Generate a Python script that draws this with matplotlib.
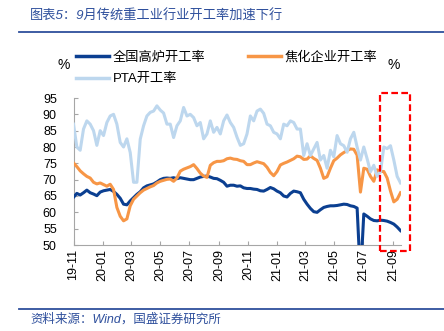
import numpy as np
import pandas as pd
import matplotlib
matplotlib.use('Agg')
import matplotlib.pyplot as plt
import matplotlib.dates as mdates
from matplotlib.patches import Rectangle
from matplotlib.lines import Line2D

plt.rcParams['font.family'] = ['Liberation Sans', 'Noto Sans CJK SC']

# weekly data, 2019-11 to 2021-09
fechas = pd.date_range('2019-11-01', periods=99, freq='7D')

gaolu = [64.6, 65.8, 65.3, 66.0, 66.8, 66.0, 65.6, 65.1, 66.2, 66.6,
         66.8, 67.0, 66.4, 65.5, 64.3, 62.5, 62.3, 63.5, 64.5, 65.5,
         66.3, 67.5, 68.1, 68.4, 68.7, 69.3, 70.0, 70.4, 70.5, 70.4,
         70.6, 70.3, 70.6, 70.4, 70.2, 70.0, 70.0, 70.4, 70.8, 71.0,
         71.1, 70.8, 70.4, 70.3, 69.8, 69.2, 68.0, 68.3, 68.3, 68.0,
         68.1, 67.5, 67.3, 67.3, 67.1, 67.0, 66.6, 66.5, 67.0, 67.6,
         67.2, 66.5, 66.0, 65.0, 64.7, 65.8, 66.5, 66.3, 66.0, 64.0,
         62.5, 61.2, 60.2, 60.0, 60.8, 61.5, 61.8, 62.0, 62.0, 62.1,
         62.3, 62.5, 62.4, 62.0, 61.8, 61.3, 40.0, 59.5, 58.8, 58.0,
         57.5, 57.4, 57.6, 57.5, 57.3, 56.9, 56.4, 55.5, 54.4]

jiaohua = [75.1, 74.0, 72.7, 71.8, 71.0, 70.5, 69.2, 68.7, 69.0, 68.5,
           68.0, 68.6, 67.0, 61.5, 58.8, 57.4, 58.0, 62.0, 64.0, 65.0,
           66.0, 66.8, 67.3, 67.8, 68.2, 69.0, 69.5, 69.8, 70.1, 70.2,
           69.5, 70.5, 72.6, 73.2, 73.6, 74.0, 74.6, 73.4, 72.0, 71.1,
           70.7, 74.4, 75.2, 75.6, 75.6, 75.8, 76.4, 76.6, 76.3, 76.2,
           75.8, 75.6, 74.6, 74.6, 75.1, 75.5, 75.2, 74.9, 73.8, 72.2,
           71.2, 72.5, 74.5, 75.0, 75.4, 75.9, 76.4, 77.2, 77.0, 76.2,
           76.3, 77.3, 76.5, 75.9, 73.5, 70.4, 70.9, 73.5, 75.8, 76.6,
           77.6, 78.3, 78.9, 79.4, 79.3, 77.5, 66.2, 73.5, 73.2, 71.0,
           69.5, 73.0, 72.5, 72.5, 70.5, 66.5, 63.2, 64.0, 66.0]

pta = [87.0, 80.0, 79.0, 85.5, 88.0, 87.0, 85.0, 80.5, 85.0, 83.5,
       87.5, 89.5, 90.0, 87.0, 81.4, 80.0, 82.5, 78.3, 69.2, 69.2,
       82.4, 86.5, 89.5, 90.6, 91.0, 92.6, 91.3, 90.4, 87.0, 87.0,
       82.9, 86.5, 88.0, 92.1, 89.5, 90.0, 89.0, 86.5, 87.5, 82.5,
       84.0, 88.0, 84.5, 86.0, 84.0, 88.0, 89.8, 87.5, 86.0, 83.0,
       80.5, 81.0, 84.0, 89.5, 88.0, 91.0, 91.6, 90.3, 87.0, 86.5,
       84.5, 84.0, 82.5, 87.0, 86.5, 88.0, 87.5, 85.5, 85.5, 77.4,
       81.0, 77.4, 79.4, 81.4, 76.0, 77.4, 73.5, 79.0, 77.0, 83.5,
       81.0, 80.4, 78.4, 82.5, 84.5, 80.0, 76.0, 80.0, 76.4, 72.4,
       74.4, 71.0, 72.4, 80.0, 79.5, 80.4, 76.0, 71.0, 69.0]

nombres = ['全国高炉开工率', '焦化企业开工率', 'PTA开工率']
colores = ['#0B3F91', '#F79646', '#BDD7EE']
yticks = [50, 55, 60, 65, 70, 75, 80, 85, 90, 95]

titulo = '图表5：9月传统重工业行业开工率加速下行'
fuente = '资料来源：Wind，国盛证券研究所'
azul_txt = '#2E4F9C'

W, H = 444, 331
fig = plt.figure(figsize=(W / 100, H / 100), dpi=100)
ax = fig.add_axes([73.5 / W, 1 - 245 / H, 327 / W, 147 / H])

ax.plot(fechas, gaolu, color=colores[0], lw=2.2, zorder=3)
ax.plot(fechas, jiaohua, color=colores[1], lw=2.2, zorder=3)
ax.plot(fechas, pta, color=colores[2], lw=2.2, zorder=3)

ax.set_xlim(fechas[0], fechas[-1])
ax.set_ylim(50, 95)
ax.set_yticks(yticks)
ax.xaxis.set_major_locator(mdates.MonthLocator(bymonth=[1, 3, 5, 7, 9, 11]))
ax.xaxis.set_major_formatter(mdates.DateFormatter('%y-%m'))
plt.setp(ax.get_xticklabels(), rotation=90)

for s in ['top', 'right']:
    ax.spines[s].set_visible(False)
for s in ['left', 'bottom']:
    ax.spines[s].set_color('#A6A6A6')
    ax.spines[s].set_linewidth(0.8)
ax.tick_params(axis='both', direction='in', length=3, color='#A6A6A6',
               labelsize=9, labelcolor='#000000', pad=3)
ax.tick_params(axis='y', pad=12)

# legend: column 1 = blue + PTA, column 2 = orange
hs = [Line2D([], [], color=colores[0], lw=2.5),
      Line2D([], [], color=colores[2], lw=2.5),
      Line2D([], [], color=colores[1], lw=2.5)]
fig.legend(hs, [nombres[0], nombres[2], nombres[1]], ncol=2, frameon=False,
           loc='upper left', bbox_to_anchor=(76 / W, 1 - 51 / H),
           fontsize=9.5, handlelength=2.5, handletextpad=0.3,
           columnspacing=3.2, labelspacing=0.72, borderpad=0, borderaxespad=0)

fig.text(64 / W, 1 - 65 / H, '%', fontsize=10, ha='center', va='center')
fig.text(394 / W, 1 - 65 / H, '%', fontsize=10, ha='center', va='center')

# title, footer and rules
fig.text(30 / W, 1 - 16 / H, titulo, fontsize=9.5, color=azul_txt,
         style='italic', ha='left', va='center')
fig.add_artist(Line2D([19 / W, 1], [1 - 31.5 / H, 1 - 31.5 / H],
                      color=azul_txt, lw=1.3, transform=fig.transFigure))
fig.add_artist(Line2D([19 / W, 1], [1 - 309 / H, 1 - 309 / H],
                      color=azul_txt, lw=1.3, transform=fig.transFigure))
fig.text(30 / W, 1 - 319 / H, fuente, fontsize=9, color=azul_txt,
         style='italic', ha='left', va='center')

# red dashed highlight box
fig.add_artist(Rectangle((379.5 / W, 1 - 251 / H), 30 / W, 158 / H,
                         fill=False, ec='#FF0000', lw=1.6, ls=(0, (3, 1.5)),
                         transform=fig.transFigure))

fig.savefig('out.png', dpi=100)
